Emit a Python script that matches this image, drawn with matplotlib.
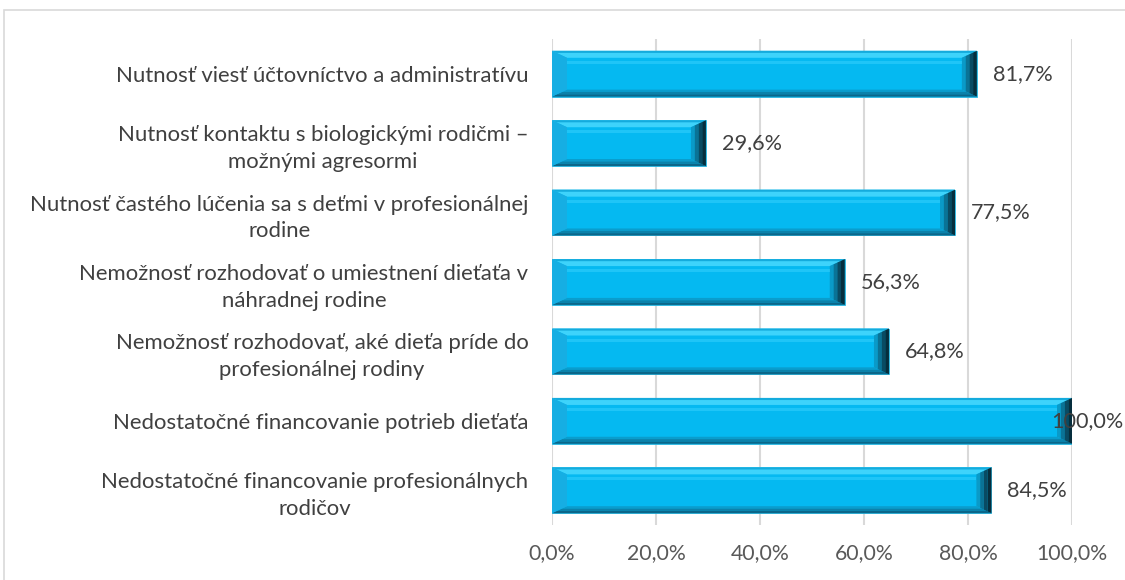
import matplotlib
matplotlib.use("Agg")
import matplotlib.pyplot as plt
from matplotlib.patches import Polygon, Rectangle

categories = [
    "Nutnosť viesť účtovníctvo a administratívu",
    "Nutnosť kontaktu s biologickými rodičmi –\nmožnými agresormi",
    "Nutnosť častého lúčenia sa s deťmi v profesionálnej\nrodine",
    "Nemožnosť rozhodovať o umiestnení dieťaťa v\nnáhradnej rodine",
    "Nemožnosť rozhodovať, aké dieťa príde do\nprofesionálnej rodiny",
    "Nedostatočné financovanie potrieb dieťaťa",
    "Nedostatočné financovanie profesionálnych\nrodičov",
]
values = [81.7, 29.6, 77.5, 56.3, 64.8, 100.0, 84.5]
xticks = [0, 20, 40, 60, 80, 100]
xtick_labels = ["0,0%", "20,0%", "40,0%", "60,0%", "80,0%", "100,0%"]

W, H = 1125, 580
fig = plt.figure(figsize=(W / 100, H / 100), dpi=100)
plt.rcParams['font.family'] = ['Lato', 'DejaVu Sans']

# outer chart border
fig.patches.append(Rectangle((4 / W, -0.05), 1.2, 1 - 10 / H + 0.05, transform=fig.transFigure,
                             fill=False, edgecolor="#D9D9D9", linewidth=1.2))

ax = fig.add_axes([552 / W, 1 - 525 / H, 520 / W, 486 / H])
ax.set_xlim(0, 100)
ax.set_ylim(len(categories) - 0.5, -0.5)
for s in ax.spines.values():
    s.set_visible(False)

ax.set_axisbelow(True)
ax.xaxis.grid(True, color="#D9D9D9", linewidth=1.5)
ax.set_xticks(xticks)
ax.set_xticklabels(xtick_labels, fontsize=15.3, color="#595959")
ax.tick_params(axis="x", length=0, pad=13)

ypos = list(range(len(categories)))
ax.set_yticks(ypos)
ax.set_yticklabels(categories, fontsize=15.9, color="#404040", multialignment="center",
                   linespacing=1.42)
ax.tick_params(axis="y", length=0, pad=17)

bh = 0.66
main = "#05B9F1"
ax.barh(ypos, values, height=bh, color=main, edgecolor="#2BB6E0", linewidth=0.6, zorder=2)

# bevel facets (sizes in pixels converted to data units)
px_x = 100 / 520.0
px_y = 1 / 69.4
dx = 15 * px_x
dy = 7 * px_y


def band(ax, pts, c, z=3, a=1.0):
    ax.add_patch(Polygon(pts, closed=True, facecolor=c, edgecolor="none", zorder=z, alpha=a))


for y, v in zip(ypos, values):
    top = y - bh / 2
    bot = y + bh / 2
    # top facet: thin edge + light highlight
    band(ax, [(0, top), (v, top), (v - dx, top + dy), (dx, top + dy)], "#3ED3FB")
    band(ax, [(0, top), (v, top), (v - 0.3 * dx, top + 0.3 * dy), (0.3 * dx, top + 0.3 * dy)], "#14ABDD")
    # bottom facet gradient
    for k, c in enumerate(["#0A9DCD", "#0B82AB", "#0B678A"]):
        f0 = 1 - k / 3.0
        f1 = 1 - (k + 1) / 3.0
        band(ax, [(dx * f0, bot - dy * f0), (v - dx * f0, bot - dy * f0),
                  (v - dx * f1, bot - dy * f1), (dx * f1, bot - dy * f1)], c)
    # left facet
    band(ax, [(0, top), (dx, top + dy), (dx, bot - dy), (0, bot)], "#16AEE3")
    # right facet gradient
    for k, c in enumerate(["#0A9AC8", "#0A7396", "#094B63", "#062E3D"]):
        f0 = 1 - k / 4.0
        f1 = 1 - (k + 1) / 4.0
        band(ax, [(v - dx * f0, top + dy * f0), (v - dx * f1, top + dy * f1),
                  (v - dx * f1, bot - dy * f1), (v - dx * f0, bot - dy * f0)], c)
    # soft highlight stripe on face
    band(ax, [(dx, top + dy + 3 * px_y), (v - dx, top + dy + 3 * px_y),
              (v - dx, top + dy + 6 * px_y), (dx, top + dy + 6 * px_y)], "#3FD4FF", a=0.45)
    lx = v + 16 * px_x
    if lx + 60 * px_x > 100 + 10 * px_x:
        lx = v - 21 * px_x
    ax.text(lx, y, f"{v:.1f}%".replace(".", ","), va="center", ha="left",
            fontsize=15.6, color="#404040", zorder=5, clip_on=False)

fig.savefig("out.png", dpi=100)
